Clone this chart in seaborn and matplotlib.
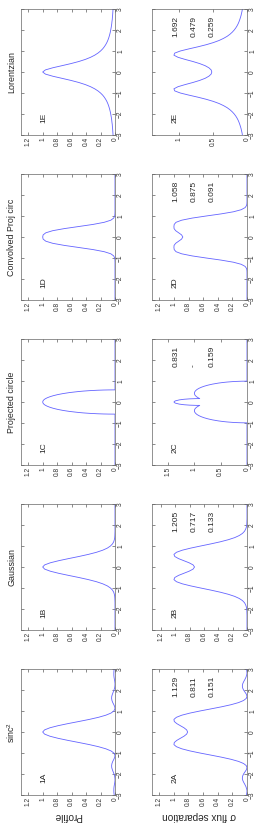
import numpy as np
import pandas as pd
import matplotlib
matplotlib.use("Agg")
import matplotlib.pyplot as plt
import seaborn as sns

# ---------------- data ----------------
POS = np.round(np.linspace(-3.0, 3.0, 61), 2)  # position grid (x in original chart)

P1A = [0.011, 0.015, 0.016, 0.016, 0.013, 0.008, 0.003, 0.000, 0.001, 0.005,
       0.014, 0.025, 0.036, 0.045, 0.047, 0.042, 0.031, 0.016, 0.003, 0.001,
       0.016, 0.056, 0.127, 0.228, 0.355, 0.500, 0.650, 0.788, 0.901, 0.974,
       1.000,
       0.974, 0.901, 0.788, 0.650, 0.500, 0.355, 0.228, 0.127, 0.056, 0.016,
       0.001, 0.003, 0.016, 0.031, 0.042, 0.047, 0.045, 0.036, 0.025, 0.014,
       0.005, 0.001, 0.000, 0.003, 0.008, 0.013, 0.016, 0.016, 0.015, 0.011]

P1B = [0.000, 0.000, 0.000, 0.000, 0.000, 0.000, 0.000, 0.000, 0.000, 0.000,
       0.000, 0.000, 0.000, 0.000, 0.001, 0.002, 0.004, 0.009, 0.018, 0.035,
       0.063, 0.106, 0.170, 0.257, 0.369, 0.500, 0.642, 0.779, 0.895, 0.973,
       1.000,
       0.973, 0.895, 0.779, 0.642, 0.500, 0.369, 0.257, 0.170, 0.106, 0.063,
       0.035, 0.018, 0.009, 0.004, 0.002, 0.001, 0.000, 0.000, 0.000, 0.000,
       0.000, 0.000, 0.000, 0.000, 0.000, 0.000, 0.000, 0.000, 0.000, 0.000]

X1C = [-3.0, -0.5774, -0.575, -0.57, -0.56, -0.54, -0.52, -0.50, -0.45, -0.40,
       -0.35, -0.30, -0.25, -0.20, -0.15, -0.10, -0.05, 0.0, 0.05, 0.10,
       0.15, 0.20, 0.25, 0.30, 0.35, 0.40, 0.45, 0.50, 0.52, 0.54,
       0.56, 0.57, 0.575, 0.5774, 3.0]
P1C = [0.000, 0.000, 0.090, 0.159, 0.243, 0.354, 0.435, 0.500, 0.627, 0.721,
       0.795, 0.854, 0.901, 0.938, 0.966, 0.985, 0.996, 1.000, 0.996, 0.985,
       0.966, 0.938, 0.901, 0.854, 0.795, 0.721, 0.627, 0.500, 0.435, 0.354,
       0.243, 0.159, 0.090, 0.000, 0.000]

P1D = [0.000, 0.000, 0.000, 0.000, 0.000, 0.000, 0.000, 0.000, 0.000, 0.000,
       0.000, 0.000, 0.000, 0.000, 0.000, 0.000, 0.000, 0.000, 0.000, 0.001,
       0.004, 0.018, 0.058, 0.149, 0.302, 0.500, 0.701, 0.862, 0.957, 0.994,
       1.000,
       0.994, 0.957, 0.862, 0.701, 0.500, 0.302, 0.149, 0.058, 0.018, 0.004,
       0.001, 0.000, 0.000, 0.000, 0.000, 0.000, 0.000, 0.000, 0.000, 0.000,
       0.000, 0.000, 0.000, 0.000, 0.000, 0.000, 0.000, 0.000, 0.000, 0.000]

P1E = [0.027, 0.029, 0.031, 0.033, 0.036, 0.038, 0.042, 0.045, 0.049, 0.054,
       0.059, 0.065, 0.072, 0.080, 0.089, 0.100, 0.113, 0.129, 0.148, 0.171,
       0.200, 0.236, 0.281, 0.338, 0.410, 0.500, 0.610, 0.735, 0.862, 0.962,
       1.000,
       0.962, 0.862, 0.735, 0.610, 0.500, 0.410, 0.338, 0.281, 0.236, 0.200,
       0.171, 0.148, 0.129, 0.113, 0.100, 0.089, 0.080, 0.072, 0.065, 0.059,
       0.054, 0.049, 0.045, 0.042, 0.038, 0.036, 0.033, 0.031, 0.029, 0.027]

P2A = [0.007, 0.002, 0.000, 0.005, 0.015, 0.029, 0.045, 0.058, 0.064, 0.060,
       0.047, 0.028, 0.009, 0.000, 0.010, 0.047, 0.116, 0.218, 0.347, 0.494,
       0.643, 0.780, 0.891, 0.964, 0.998, 0.993, 0.959, 0.910, 0.860, 0.824,
       0.811,
       0.824, 0.860, 0.910, 0.959, 0.993, 0.998, 0.964, 0.891, 0.780, 0.643,
       0.494, 0.347, 0.218, 0.116, 0.047, 0.010, 0.000, 0.009, 0.028, 0.047,
       0.060, 0.064, 0.058, 0.045, 0.029, 0.015, 0.005, 0.000, 0.002, 0.007]

P2B = [0.000, 0.000, 0.000, 0.000, 0.000, 0.000, 0.000, 0.000, 0.001, 0.002,
       0.004, 0.009, 0.019, 0.035, 0.063, 0.107, 0.171, 0.260, 0.372, 0.504,
       0.646, 0.784, 0.902, 0.983, 1.018, 1.006, 0.954, 0.880, 0.806, 0.751,
       0.731,
       0.751, 0.806, 0.880, 0.954, 1.006, 1.018, 0.983, 0.902, 0.784, 0.646,
       0.504, 0.372, 0.260, 0.171, 0.107, 0.063, 0.035, 0.019, 0.009, 0.004,
       0.002, 0.001, 0.000, 0.000, 0.000, 0.000, 0.000, 0.000, 0.000, 0.000]

X2C = [-3.0, -0.993, -0.99, -0.98, -0.97, -0.95, -0.93, -0.90, -0.85, -0.80,
       -0.75, -0.70, -0.65, -0.60, -0.55, -0.50, -0.45, -0.4155, -0.35, -0.30,
       -0.25, -0.20, -0.1619, -0.161, -0.16, -0.15, -0.13, -0.10, -0.05, 0.0,
       0.05, 0.10, 0.13, 0.15, 0.16, 0.161, 0.1619, 0.20, 0.25, 0.30,
       0.35, 0.4155, 0.45, 0.50, 0.55, 0.60, 0.65, 0.70, 0.75, 0.80,
       0.85, 0.90, 0.93, 0.95, 0.97, 0.98, 0.99, 0.993, 3.0]
P2C = [0.000, 0.000, 0.099, 0.210, 0.278, 0.378, 0.454, 0.544, 0.659, 0.746,
       0.815, 0.870, 0.914, 0.948, 0.972, 0.989, 0.998, 1.000, 0.994, 0.980,
       0.958, 0.928, 0.898, 0.952, 0.977, 1.090, 1.197, 1.288, 1.366, 1.389,
       1.366, 1.288, 1.197, 1.090, 0.977, 0.952, 0.898, 0.928, 0.958, 0.980,
       0.994, 1.000, 0.998, 0.989, 0.972, 0.948, 0.914, 0.870, 0.815, 0.746,
       0.659, 0.544, 0.454, 0.378, 0.278, 0.210, 0.099, 0.000, 0.000]

P2D = [0.000, 0.000, 0.000, 0.000, 0.000, 0.000, 0.000, 0.000, 0.000, 0.000,
       0.000, 0.000, 0.000, 0.000, 0.001, 0.006, 0.026, 0.079, 0.187, 0.356,
       0.560, 0.753, 0.896, 0.973, 0.998, 1.002, 1.000, 0.978, 0.937, 0.897,
       0.880,
       0.897, 0.937, 0.978, 1.000, 1.002, 0.998, 0.973, 0.896, 0.753, 0.560,
       0.356, 0.187, 0.079, 0.026, 0.006, 0.001, 0.000, 0.000, 0.000, 0.000,
       0.000, 0.000, 0.000, 0.000, 0.000, 0.000, 0.000, 0.000, 0.000, 0.000]

P2E = [0.068, 0.073, 0.080, 0.087, 0.096, 0.106, 0.117, 0.130, 0.146, 0.165,
       0.188, 0.216, 0.250, 0.292, 0.346, 0.412, 0.496, 0.600, 0.722, 0.857,
       0.982, 1.064, 1.076, 1.016, 0.912, 0.797, 0.696, 0.616, 0.561, 0.528,
       0.518,
       0.528, 0.561, 0.616, 0.696, 0.797, 0.912, 1.016, 1.076, 1.064, 0.982,
       0.857, 0.722, 0.600, 0.496, 0.412, 0.346, 0.292, 0.250, 0.216, 0.188,
       0.165, 0.146, 0.130, 0.117, 0.106, 0.096, 0.087, 0.080, 0.073, 0.068]

TITLES = ["sinc$^2$", "Gaussian", "Projected circle", "Convolved Proj circ", "Lorentzian"]
LETTERS = ["A", "B", "C", "D", "E"]
NUMS = [("1.129", "0.811", "0.151"),
        ("1.205", "0.717", "0.133"),
        ("0.831", "-", "0.159"),
        ("1.058", "0.875", "0.091"),
        ("1.692", "0.479", "0.259")]
ROW_LABELS = ["Profile", "\u03c3 flux separation"]
POS_TICKS = [-3, -2, -1, 0, 1, 2, 3]
POS_TICKLABELS = ["\u22123", "\u22122", "\u22121", "0", "1", "2", "3"]
VAL_TICKS_FINE = [0, 0.2, 0.4, 0.6, 0.8, 1.0, 1.2]
VAL_TICKLABELS_FINE = ["0", "0.2", "0.4", "0.6", "0.8", "1", "1.2"]

ROW1 = [(POS, P1A), (POS, P1B), (X1C, P1C), (POS, P1D), (POS, P1E)]
ROW2 = [(POS, P2A), (POS, P2B), (X2C, P2C), (POS, P2D), (POS, P2E)]

# ---------------- style ----------------
sns.set_style("ticks")
plt.rcParams["font.family"] = ["Liberation Sans", "DejaVu Sans"]
plt.rcParams["mathtext.fontset"] = "custom"
plt.rcParams["mathtext.rm"] = "Liberation Sans"
plt.rcParams["mathtext.it"] = "Liberation Sans"

LINE_COLOR = "#6464ff"
fig = plt.figure(figsize=(2.77, 8.36), dpi=100)
W, H = 277.0, 836.0

col_left = [21.0, 152.0]
col_width = [94.0, 95.0]
panel_bottom = [795.0, 630.0, 465.0, 300.0, 135.0]  # A..E, pixel from top
panel_h = 126.0


def make_axes(col, idx):
    left = col_left[col] / W
    bottom = 1 - panel_bottom[idx] / H
    return fig.add_axes([left, bottom, col_width[col] / W, panel_h / H])


for row, series in enumerate([ROW1, ROW2]):
    for i, (xs, vals) in enumerate(series):
        ax = make_axes(row, i)
        df = pd.DataFrame({"pos": xs, "val": vals})
        sns.lineplot(data=df, x="val", y="pos", ax=ax, sort=False, estimator=None,
                     orient="y", color=LINE_COLOR, linewidth=0.6)
        vmax = 1.3 * max(vals)
        ax.set_xlim(vmax, 0)
        ax.set_ylim(-3, 3)
        if vmax > 1.36:
            ticks = [t for t in [0, 0.5, 1.0, 1.5] if t < vmax]
            labels = [("%g" % t) for t in ticks]
        else:
            ticks, labels = VAL_TICKS_FINE, VAL_TICKLABELS_FINE
        ax.set_xticks(ticks)
        ax.set_xticklabels(labels, rotation=90)
        ax.yaxis.tick_right()
        ax.set_yticks(POS_TICKS)
        ax.set_yticklabels(POS_TICKLABELS, rotation=90, va="center")
        ax.tick_params(direction="in", length=2, width=0.4, labelsize=4.8, pad=1.5,
                       top=True, bottom=True, left=True, right=True,
                       labelleft=False, labelright=True, labeltop=False, labelbottom=True,
                       colors="#333333")
        ax.set_xlabel("")
        ax.set_ylabel("")
        for sp in ax.spines.values():
            sp.set_visible(True)
            sp.set_linewidth(0.5)
            sp.set_color("#666666")
        # panel label
        ax.text(0.245, 0.092, f"{row + 1}{LETTERS[i]}", transform=ax.transAxes,
                rotation=90, ha="center", va="bottom", fontsize=6)
        if row == 0:
            ax.text(-0.10, 0.5, TITLES[i], transform=ax.transAxes, rotation=90,
                    ha="center", va="center", fontsize=6.4)
        else:
            for k, fx in enumerate([0.255, 0.44, 0.63]):
                ax.text(fx, 0.775, NUMS[i][k], transform=ax.transAxes, rotation=90,
                        ha="center", va="bottom", fontsize=6)
        if i == 0:
            ax.text(0.5, -0.17, ROW_LABELS[row], transform=ax.transAxes, rotation=180,
                    ha="center", va="center", fontsize=7.2)

fig.savefig("out.png", dpi=100)
